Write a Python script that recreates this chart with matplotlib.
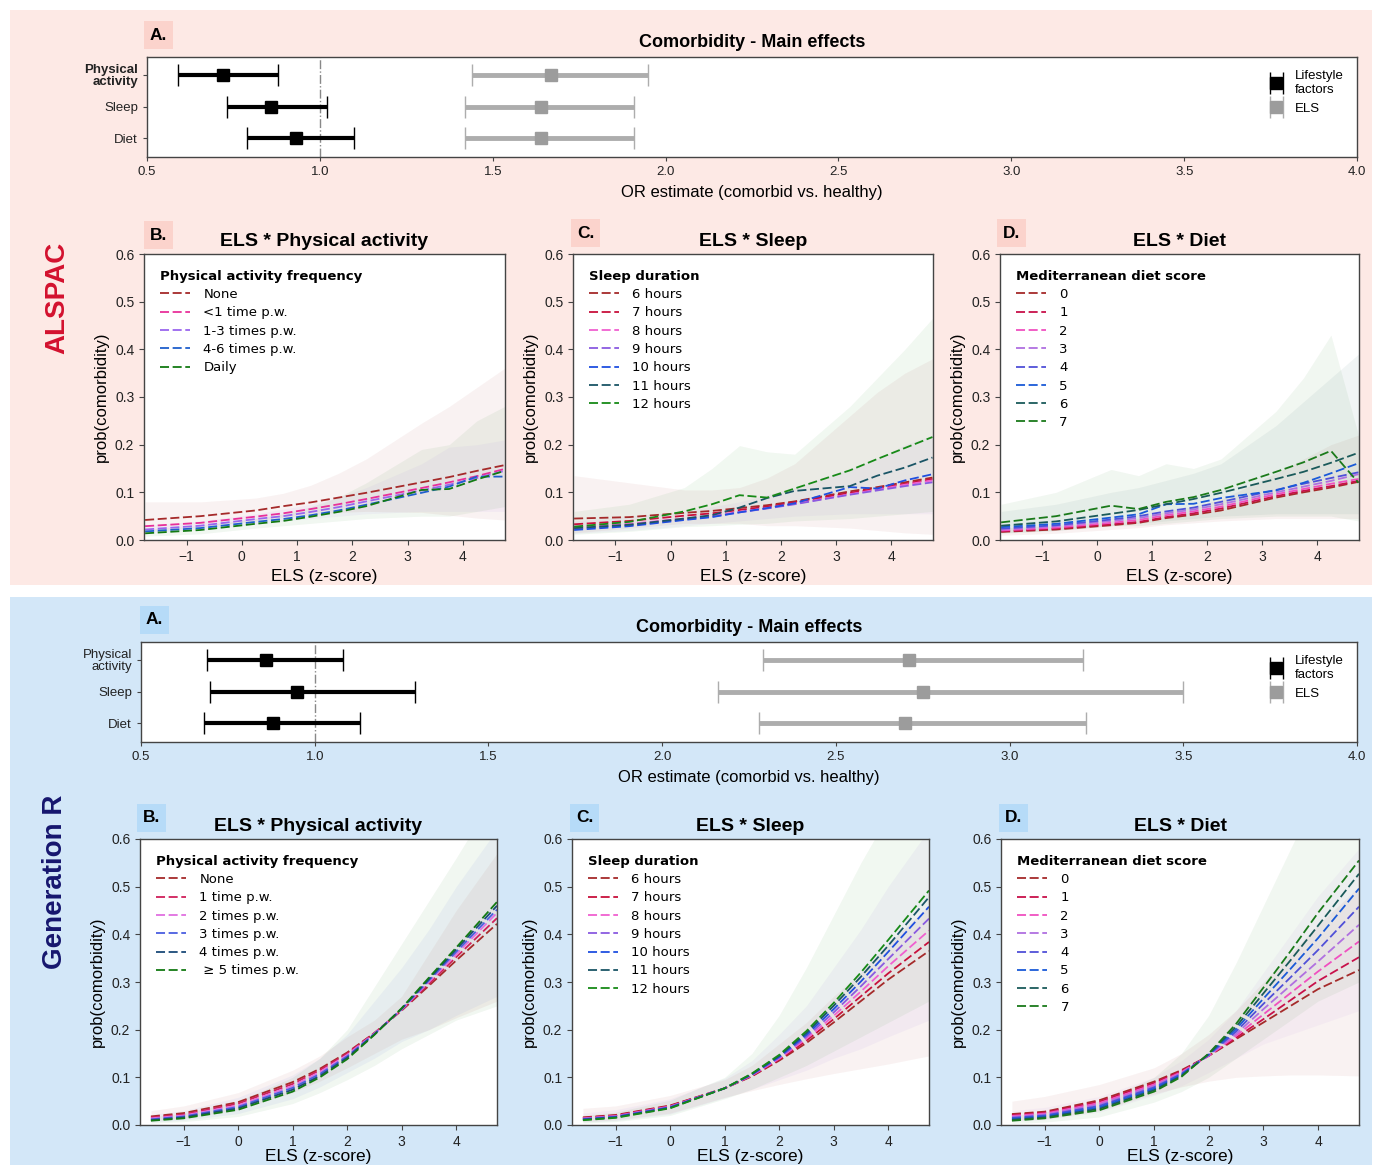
import numpy as np
import matplotlib
matplotlib.use("Agg")
import matplotlib.pyplot as plt
from matplotlib.patches import Rectangle

plt.rcParams['font.family'] = ['Liberation Sans', 'DejaVu Sans']

# ---------------- data: main effects (odds ratios) ----------------
factors = ["Physical\nactivity", "Sleep", "Diet"]

alspac_life_or = [0.72, 0.86, 0.93]
alspac_life_lo = [0.59, 0.73, 0.79]
alspac_life_hi = [0.88, 1.02, 1.10]
alspac_els_or = [1.67, 1.64, 1.64]
alspac_els_lo = [1.44, 1.42, 1.42]
alspac_els_hi = [1.95, 1.91, 1.91]

genr_life_or = [0.86, 0.95, 0.88]
genr_life_lo = [0.69, 0.70, 0.68]
genr_life_hi = [1.08, 1.29, 1.13]
genr_els_or = [2.71, 2.75, 2.70]
genr_els_lo = [2.29, 2.16, 2.28]
genr_els_hi = [3.21, 3.50, 3.22]

# ---------------- data: interaction curves ----------------
alspac_x = [-1.75, -0.75, 0.25, 0.75, 1.25, 1.75, 2.25, 3.25, 3.75, 4.25, 4.75]
genr_x = [-1.6, -1, 0, 1, 1.5, 2, 2.5, 3, 3.5, 4, 4.75]

# ALSPAC - physical activity
alspac_pa_labels = ["None", "<1 time p.w.", "1-3 times p.w.", "4-6 times p.w.", "Daily"]
alspac_pa = [
    [0.042, 0.050, 0.062, 0.071, 0.079, 0.089, 0.099, 0.121, 0.132, 0.145, 0.157],
    [0.029, 0.036, 0.049, 0.056, 0.065, 0.075, 0.086, 0.109, 0.121, 0.134, 0.149],
    [0.022, 0.030, 0.044, 0.050, 0.059, 0.069, 0.081, 0.104, 0.116, 0.130, 0.145],
    [0.018, 0.025, 0.038, 0.044, 0.052, 0.062, 0.074, 0.099, 0.112, 0.133, 0.133],
    [0.014, 0.021, 0.034, 0.040, 0.049, 0.059, 0.071, 0.105, 0.107, 0.127, 0.145],
]
alspac_pa_band_idx = [0, 2, 4]
alspac_pa_lo = [
    [0.020, 0.028, 0.040, 0.048, 0.053, 0.058, 0.060, 0.058, 0.052, 0.046, 0.042],
    [0.015, 0.022, 0.033, 0.040, 0.045, 0.050, 0.055, 0.060, 0.060, 0.060, 0.060],
    [0.008, 0.013, 0.025, 0.030, 0.035, 0.040, 0.045, 0.050, 0.050, 0.060, 0.070],
]
alspac_pa_hi = [
    [0.080, 0.080, 0.088, 0.098, 0.115, 0.140, 0.170, 0.245, 0.280, 0.320, 0.360],
    [0.030, 0.040, 0.055, 0.065, 0.075, 0.090, 0.110, 0.160, 0.195, 0.200, 0.210],
    [0.022, 0.030, 0.045, 0.055, 0.070, 0.090, 0.120, 0.190, 0.200, 0.250, 0.280],
]

# ALSPAC - sleep
alspac_sl_labels = ["6 hours", "7 hours", "8 hours", "9 hours", "10 hours", "11 hours", "12 hours"]
alspac_sl = [
    [0.045, 0.048, 0.057, 0.061, 0.067, 0.073, 0.081, 0.102, 0.111, 0.121, 0.131],
    [0.033, 0.040, 0.051, 0.056, 0.063, 0.070, 0.079, 0.099, 0.108, 0.118, 0.128],
    [0.028, 0.034, 0.045, 0.051, 0.059, 0.067, 0.076, 0.096, 0.106, 0.116, 0.125],
    [0.024, 0.031, 0.043, 0.049, 0.058, 0.066, 0.075, 0.095, 0.104, 0.113, 0.121],
    [0.021, 0.029, 0.042, 0.048, 0.058, 0.067, 0.077, 0.111, 0.108, 0.125, 0.138],
    [0.025, 0.032, 0.045, 0.052, 0.068, 0.088, 0.103, 0.113, 0.135, 0.152, 0.173],
    [0.028, 0.038, 0.060, 0.075, 0.094, 0.089, 0.108, 0.146, 0.170, 0.193, 0.216],
]
alspac_sl_band_idx = [0, 3, 6]
alspac_sl_lo = [
    [0.015, 0.025, 0.035, 0.035, 0.035, 0.030, 0.030, 0.025, 0.020, 0.015, 0.012],
    [0.014, 0.020, 0.030, 0.035, 0.040, 0.045, 0.050, 0.055, 0.055, 0.055, 0.055],
    [0.012, 0.018, 0.028, 0.030, 0.033, 0.035, 0.040, 0.045, 0.050, 0.055, 0.060],
]
alspac_sl_hi = [
    [0.135, 0.120, 0.105, 0.105, 0.110, 0.130, 0.160, 0.260, 0.310, 0.350, 0.380],
    [0.040, 0.050, 0.060, 0.070, 0.080, 0.095, 0.110, 0.150, 0.170, 0.200, 0.220],
    [0.060, 0.075, 0.110, 0.150, 0.198, 0.185, 0.180, 0.280, 0.340, 0.400, 0.465],
]

# ALSPAC - diet
alspac_dt_labels = ["0", "1", "2", "3", "4", "5", "6", "7"]
alspac_dt = [
    [0.017, 0.022, 0.031, 0.036, 0.046, 0.053, 0.062, 0.089, 0.100, 0.110, 0.122],
    [0.018, 0.024, 0.033, 0.038, 0.048, 0.056, 0.066, 0.092, 0.103, 0.113, 0.124],
    [0.020, 0.026, 0.036, 0.042, 0.052, 0.060, 0.070, 0.096, 0.107, 0.118, 0.128],
    [0.022, 0.029, 0.040, 0.046, 0.056, 0.064, 0.075, 0.100, 0.112, 0.124, 0.138],
    [0.024, 0.031, 0.043, 0.050, 0.060, 0.068, 0.080, 0.105, 0.118, 0.130, 0.142],
    [0.027, 0.034, 0.047, 0.054, 0.075, 0.076, 0.088, 0.104, 0.120, 0.140, 0.161],
    [0.030, 0.039, 0.055, 0.063, 0.075, 0.086, 0.099, 0.128, 0.143, 0.162, 0.183],
    [0.037, 0.050, 0.072, 0.065, 0.080, 0.090, 0.105, 0.143, 0.163, 0.187, 0.120],
]
alspac_dt_band_idx = [0, 6, 7]
alspac_dt_lo = [
    [0.010, 0.014, 0.022, 0.026, 0.032, 0.036, 0.040, 0.045, 0.045, 0.045, 0.045],
    [0.014, 0.020, 0.030, 0.035, 0.040, 0.045, 0.050, 0.055, 0.055, 0.055, 0.055],
    [0.015, 0.020, 0.030, 0.030, 0.035, 0.040, 0.045, 0.050, 0.050, 0.050, 0.040],
]
alspac_dt_hi = [
    [0.025, 0.030, 0.040, 0.046, 0.060, 0.070, 0.085, 0.140, 0.170, 0.200, 0.220],
    [0.060, 0.075, 0.100, 0.110, 0.125, 0.140, 0.160, 0.240, 0.290, 0.340, 0.390],
    [0.075, 0.100, 0.148, 0.135, 0.160, 0.150, 0.170, 0.270, 0.340, 0.430, 0.220],
]

# Generation R - physical activity
genr_pa_labels = ["None", "1 time p.w.", "2 times p.w.", "3 times p.w.", "4 times p.w.",
                  " \u2265 5 times p.w."]
genr_pa = [
    [0.018, 0.025, 0.048, 0.090, 0.118, 0.152, 0.193, 0.240, 0.292, 0.345, 0.422],
    [0.016, 0.022, 0.045, 0.086, 0.115, 0.150, 0.193, 0.241, 0.296, 0.352, 0.434],
    [0.014, 0.020, 0.041, 0.082, 0.111, 0.147, 0.192, 0.242, 0.300, 0.358, 0.445],
    [0.012, 0.018, 0.038, 0.078, 0.107, 0.144, 0.191, 0.243, 0.303, 0.363, 0.452],
    [0.010, 0.016, 0.035, 0.074, 0.103, 0.141, 0.190, 0.244, 0.306, 0.368, 0.460],
    [0.009, 0.014, 0.032, 0.070, 0.100, 0.138, 0.189, 0.245, 0.309, 0.372, 0.468],
]
genr_pa_band_idx = [0, 3, 5]
genr_pa_lo = [
    [0.009, 0.014, 0.032, 0.068, 0.092, 0.120, 0.150, 0.180, 0.200, 0.225, 0.260],
    [0.006, 0.010, 0.024, 0.055, 0.080, 0.110, 0.140, 0.175, 0.200, 0.230, 0.270],
    [0.004, 0.007, 0.018, 0.045, 0.068, 0.095, 0.125, 0.160, 0.190, 0.220, 0.250],
]
genr_pa_hi = [
    [0.030, 0.040, 0.068, 0.115, 0.145, 0.185, 0.220, 0.270, 0.360, 0.450, 0.570],
    [0.022, 0.030, 0.058, 0.105, 0.140, 0.190, 0.260, 0.330, 0.410, 0.500, 0.620],
    [0.018, 0.024, 0.050, 0.100, 0.140, 0.200, 0.290, 0.380, 0.470, 0.560, 0.700],
]

# Generation R - sleep
genr_sl_labels = ["6 hours", "7 hours", "8 hours", "9 hours", "10 hours", "11 hours", "12 hours"]
genr_sl = [
    [0.016, 0.021, 0.041, 0.077, 0.102, 0.135, 0.172, 0.215, 0.260, 0.305, 0.365],
    [0.015, 0.020, 0.040, 0.077, 0.103, 0.137, 0.177, 0.222, 0.270, 0.318, 0.384],
    [0.014, 0.019, 0.039, 0.077, 0.104, 0.139, 0.181, 0.229, 0.280, 0.333, 0.408],
    [0.013, 0.018, 0.038, 0.077, 0.105, 0.141, 0.185, 0.236, 0.291, 0.348, 0.433],
    [0.012, 0.017, 0.037, 0.077, 0.106, 0.143, 0.189, 0.243, 0.301, 0.363, 0.458],
    [0.011, 0.016, 0.036, 0.077, 0.107, 0.145, 0.193, 0.250, 0.311, 0.376, 0.478],
    [0.010, 0.015, 0.035, 0.077, 0.108, 0.147, 0.197, 0.256, 0.320, 0.388, 0.492],
]
genr_sl_band_idx = [0, 3, 6]
genr_sl_lo = [
    [0.007, 0.011, 0.025, 0.058, 0.072, 0.085, 0.097, 0.108, 0.118, 0.128, 0.145],
    [0.006, 0.009, 0.023, 0.057, 0.075, 0.095, 0.115, 0.140, 0.160, 0.185, 0.220],
    [0.004, 0.007, 0.020, 0.055, 0.075, 0.100, 0.125, 0.155, 0.185, 0.215, 0.260],
]
genr_sl_hi = [
    [0.035, 0.040, 0.062, 0.095, 0.125, 0.170, 0.215, 0.270, 0.320, 0.380, 0.460],
    [0.025, 0.032, 0.055, 0.098, 0.135, 0.190, 0.250, 0.330, 0.410, 0.500, 0.620],
    [0.020, 0.027, 0.052, 0.100, 0.150, 0.230, 0.330, 0.440, 0.550, 0.650, 0.800],
]

# Generation R - diet
genr_dt_labels = ["0", "1", "2", "3", "4", "5", "6", "7"]
genr_dt = [
    [0.023, 0.028, 0.052, 0.091, 0.115, 0.145, 0.180, 0.215, 0.250, 0.285, 0.325],
    [0.021, 0.026, 0.049, 0.088, 0.113, 0.145, 0.183, 0.222, 0.262, 0.302, 0.352],
    [0.019, 0.024, 0.046, 0.085, 0.111, 0.145, 0.187, 0.232, 0.277, 0.322, 0.385],
    [0.017, 0.022, 0.043, 0.082, 0.109, 0.146, 0.191, 0.243, 0.293, 0.343, 0.420],
    [0.015, 0.020, 0.040, 0.079, 0.107, 0.147, 0.196, 0.254, 0.310, 0.367, 0.458],
    [0.013, 0.018, 0.037, 0.076, 0.105, 0.148, 0.201, 0.265, 0.328, 0.392, 0.496],
    [0.011, 0.016, 0.034, 0.073, 0.103, 0.149, 0.206, 0.276, 0.346, 0.418, 0.527],
    [0.009, 0.014, 0.031, 0.070, 0.101, 0.150, 0.212, 0.288, 0.365, 0.445, 0.555],
]
genr_dt_band_idx = [0, 3, 7]
genr_dt_lo = [
    [0.010, 0.013, 0.030, 0.065, 0.080, 0.092, 0.100, 0.103, 0.105, 0.105, 0.103],
    [0.008, 0.011, 0.027, 0.062, 0.082, 0.110, 0.140, 0.170, 0.190, 0.210, 0.240],
    [0.003, 0.006, 0.017, 0.048, 0.070, 0.100, 0.140, 0.180, 0.220, 0.260, 0.300],
]
genr_dt_hi = [
    [0.050, 0.060, 0.085, 0.120, 0.150, 0.190, 0.240, 0.300, 0.360, 0.420, 0.500],
    [0.030, 0.037, 0.060, 0.100, 0.135, 0.180, 0.240, 0.320, 0.400, 0.480, 0.580],
    [0.020, 0.027, 0.050, 0.100, 0.150, 0.230, 0.340, 0.460, 0.580, 0.700, 0.850],
]

# ---------------- colours ----------------
pa5_colors = ["#a52a2a", "#e8309a", "#9a66ee", "#1f5fcc", "#137a13"]
pa6_colors = ["#a52a2a", "#d0205a", "#e070e0", "#4a5ee0", "#1a4a78", "#137a13"]
sl_colors = ["#a52a2a", "#c8103c", "#f060d0", "#8a5ae0", "#1f4fe0", "#1a5566", "#178a17"]
dt_colors = ["#a52a2a", "#c8104a", "#f050c0", "#b070e0", "#5050d8", "#1a5ad8", "#1a5a5a", "#1a7a1a"]
pink_bg, blue_bg = "#fde9e5", "#d3e7f8"
pink_tab, blue_tab = "#fbd3cc", "#b6dbf8"

W, H = 1380, 1165


def box(l, t, r, b):
    return [l / W, 1 - b / H, (r - l) / W, (b - t) / H]


fig = plt.figure(figsize=(W / 100, H / 100), dpi=100)
fig.add_artist(Rectangle((10 / W, 1 - 585 / H), 1362 / W, 575 / H, transform=fig.transFigure,
                         fc=pink_bg, ec='none', zorder=-5))
fig.add_artist(Rectangle((10 / W, 0), 1362 / W, (H - 597) / H, transform=fig.transFigure,
                         fc=blue_bg, ec='none', zorder=-5))


def letter(x, y, s, fc):
    fig.text(x / W, 1 - y / H, s, fontsize=12.5, fontweight='bold', ha='left', va='center',
             bbox=dict(boxstyle='square,pad=0.35', fc=fc, ec='none'))


def style_spines(ax):
    for sp in ax.spines.values():
        sp.set_color('#444444')
        sp.set_linewidth(1.0)


def forest(rect, life, els, bold_first):
    ax = fig.add_axes(rect)
    ypos = [3, 2, 1]
    o, lo, hi = life
    ax.errorbar(o, ypos, xerr=[np.subtract(o, lo), np.subtract(hi, o)], fmt='s', color='black',
                ms=8.5, elinewidth=3, capsize=8, capthick=1, label='Lifestyle\nfactors')
    o, lo, hi = els
    ax.errorbar(o, ypos, xerr=[np.subtract(o, lo), np.subtract(hi, o)], fmt='s', color='#adadad',
                mfc='#9c9c9c', mec='#9c9c9c', ms=8, elinewidth=3.5, capsize=8, capthick=1,
                label='ELS')
    ax.axvline(1.0, color='#888888', ls='-.', lw=1, zorder=0)
    ax.set_xlim(0.5, 4.0)
    ax.set_ylim(0.4, 3.57)
    ax.set_xticks([0.5, 1.0, 1.5, 2.0, 2.5, 3.0, 3.5, 4.0])
    ax.set_yticks(ypos)
    ax.set_yticklabels(factors, fontsize=9.5, linespacing=1.0)
    if bold_first:
        ax.get_yticklabels()[0].set_fontweight('bold')
    ax.tick_params(labelsize=9.5, length=3, color='#444444', labelcolor='#222222')
    ax.set_xlabel('OR estimate (comorbid vs. healthy)', fontsize=12, labelpad=5)
    ax.set_title('Comorbidity - Main effects', fontsize=13, fontweight='bold', pad=7)
    style_spines(ax)
    ax.legend(loc='upper right', frameon=False, fontsize=9.5, handlelength=1.2,
              handletextpad=0.8, labelspacing=0.5, borderaxespad=0.6)
    return ax


def interaction(rect, x, curves, labels, colors, band_idx, band_lo, band_hi, xlim, title,
                leg_title, xpad=4):
    ax = fig.add_axes(rect)
    for k, i in enumerate(band_idx):
        ax.fill_between(x, band_lo[k], band_hi[k], color=colors[i], alpha=0.06, lw=0)
    for i, y in enumerate(curves):
        ax.plot(x, y, color=colors[i], lw=1.3, ls=(0, (5, 2)), label=labels[i])
    ax.set_xlim(*xlim)
    ax.set_ylim(0, 0.6)
    ax.set_xticks([-1, 0, 1, 2, 3, 4])
    ax.set_xticklabels(['\u22121', '0', '1', '2', '3', '4'])
    ax.set_yticks([0, 0.1, 0.2, 0.3, 0.4, 0.5, 0.6])
    ax.set_yticklabels(['0.0', '0.1', '0.2', '0.3', '0.4', '0.5', '0.6'])
    ax.tick_params(labelsize=10, length=3.5, color='#444444', labelcolor='#222222')
    ax.set_xlabel('ELS (z-score)', fontsize=12.5, labelpad=xpad)
    ax.set_ylabel('prob(comorbidity)', fontsize=12, labelpad=4)
    ax.set_title(title, fontsize=14, fontweight='bold', pad=6)
    style_spines(ax)
    ax.legend(loc='upper left', frameon=False, title=leg_title, alignment='left',
              prop={'family': 'DejaVu Sans', 'size': 9.5},
              title_fontproperties={'family': 'DejaVu Sans', 'weight': 'bold', 'size': 9.5},
              handlelength=2.3, handletextpad=1.0, labelspacing=0.4, borderaxespad=0.8)
    return ax


# ---------------- ALSPAC ----------------
forest(box(147, 57, 1357, 157),
       (alspac_life_or, alspac_life_lo, alspac_life_hi),
       (alspac_els_or, alspac_els_lo, alspac_els_hi), True)
interaction(box(144, 254, 505, 540), alspac_x, alspac_pa, alspac_pa_labels, pa5_colors,
            alspac_pa_band_idx, alspac_pa_lo, alspac_pa_hi, (-1.77, 4.76),
            'ELS * Physical activity', 'Physical activity frequency')
interaction(box(573, 254, 933, 540), alspac_x, alspac_sl, alspac_sl_labels, sl_colors,
            alspac_sl_band_idx, alspac_sl_lo, alspac_sl_hi, (-1.77, 4.76),
            'ELS * Sleep', 'Sleep duration')
interaction(box(1000, 254, 1359, 540), alspac_x, alspac_dt, alspac_dt_labels, dt_colors,
            alspac_dt_band_idx, alspac_dt_lo, alspac_dt_hi, (-1.77, 4.76),
            'ELS * Diet', 'Mediterranean diet score')

# ---------------- Generation R ----------------
forest(box(141, 642, 1357, 742),
       (genr_life_or, genr_life_lo, genr_life_hi),
       (genr_els_or, genr_els_lo, genr_els_hi), False)
interaction(box(140, 839, 497, 1125), genr_x, genr_pa, genr_pa_labels, pa6_colors,
            genr_pa_band_idx, genr_pa_lo, genr_pa_hi, (-1.8, 4.75),
            'ELS * Physical activity', 'Physical activity frequency', xpad=0.5)
interaction(box(572, 839, 929, 1125), genr_x, genr_sl, genr_sl_labels, sl_colors,
            genr_sl_band_idx, genr_sl_lo, genr_sl_hi, (-1.8, 4.75),
            'ELS * Sleep', 'Sleep duration', xpad=0.5)
interaction(box(1001, 839, 1359, 1125), genr_x, genr_dt, genr_dt_labels, dt_colors,
            genr_dt_band_idx, genr_dt_lo, genr_dt_hi, (-1.8, 4.75),
            'ELS * Diet', 'Mediterranean diet score', xpad=0.5)

# panel letters
letter(150, 35, 'A.', pink_tab)
letter(150, 235, 'B.', pink_tab)
letter(577, 233, 'C.', pink_tab)
letter(1003, 233, 'D.', pink_tab)
letter(146, 620, 'A.', blue_tab)
letter(143, 818, 'B.', blue_tab)
letter(576, 818, 'C.', blue_tab)
letter(1005, 818, 'D.', blue_tab)

# cohort labels
fig.text(57 / W, 1 - 298 / H, 'ALSPAC', rotation=90, fontsize=20, fontweight='bold',
         color='#d3112e', ha='center', va='center')
fig.text(55 / W, 1 - 882 / H, 'Generation R', rotation=90, fontsize=20, fontweight='bold',
         color='#16166e', ha='center', va='center')

fig.savefig('out.png', dpi=100)
